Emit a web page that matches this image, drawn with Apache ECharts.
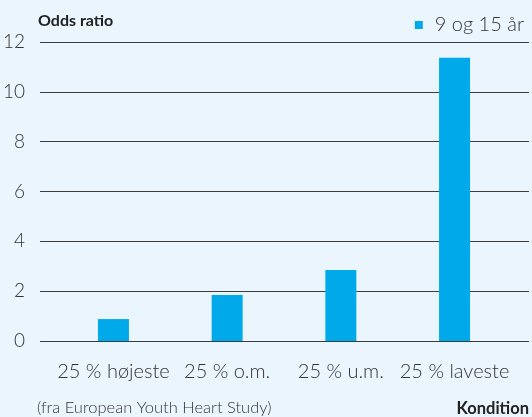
<!DOCTYPE html>
<html><head><meta charset="utf-8">
<script src="https://cdn.jsdelivr.net/npm/echarts@6/dist/echarts.min.js"></script>
<style>html,body{margin:0;padding:0;background:#ebf5fe}#c{width:532px;height:417px}</style>
</head><body><div id="c"></div>
<script>
const categories = ['25 % højeste', '25 % o.m.', '25 % u.m.', '25 % laveste'];
const oddsRatio = [0.88, 1.85, 2.85, 11.37];
const seriesName = '9 og 15 år';
const yTitle = 'Odds ratio';
const xTitle = 'Kondition';
const source = '(fra European Youth Heart Study)';
const yMin = 0, yMax = 12, yStep = 2;

const font = 'Lato, "Open Sans", sans-serif';
const chart = echarts.init(document.getElementById('c'));
chart.setOption({
  backgroundColor: '#ebf5fe',
  animation: false,
  textStyle: { fontFamily: font },
  legend: {
    right: 3, top: 10, itemWidth: 8, itemHeight: 8, itemGap: 6,
    icon: 'rect',
    textStyle: { fontSize: 20, color: '#333', fontWeight: 300, fontFamily: font, padding: [0,0,0,7] },
    data: [seriesName]
  },
  graphic: [
    { type: 'text', left: 38, top: 13, style: { text: yTitle, fontSize: 16, fontWeight: 'bold', fill: '#222', fontFamily: font } },
    { type: 'text', left: 37, top: 399, style: { text: source, fontSize: 16.5, fontWeight: 300, fill: '#333', fontFamily: font } },
    { type: 'text', right: 3, top: 400, style: { text: xTitle, fontSize: 16.5, fontWeight: 'bold', fill: '#222', fontFamily: font } }
  ],
  grid: [
    { left: 38, right: 3, top: 42, bottom: 76 },
    { left: 56.6, right: 20.6, top: 42, bottom: 76 }
  ],
  xAxis: [
    { gridIndex: 0, type: 'category', data: categories, show: false },
    { gridIndex: 1, type: 'category', data: categories,
      axisLine: { show: false }, axisTick: { show: false },
      axisLabel: { fontSize: 20, color: '#333', fontWeight: 300, fontFamily: font, margin: 21, interval: 0 } }
  ],
  yAxis: [
    { gridIndex: 0, type: 'value', min: yMin, max: yMax, interval: yStep,
      axisLine: { show: false }, axisTick: { show: false },
      axisLabel: { fontSize: 19, color: '#333', fontWeight: 300, fontFamily: font, margin: 15 },
      splitLine: { lineStyle: { color: '#3c3c3c', width: 1 } } },
    { gridIndex: 1, type: 'value', min: yMin, max: yMax, interval: yStep, show: false, splitLine: { show: false } }
  ],
  series: [
    { name: seriesName, type: 'bar', xAxisIndex: 1, yAxisIndex: 1, data: oddsRatio,
      barWidth: 31, itemStyle: { color: '#00aaea' } }
  ]
});
</script></body></html>
